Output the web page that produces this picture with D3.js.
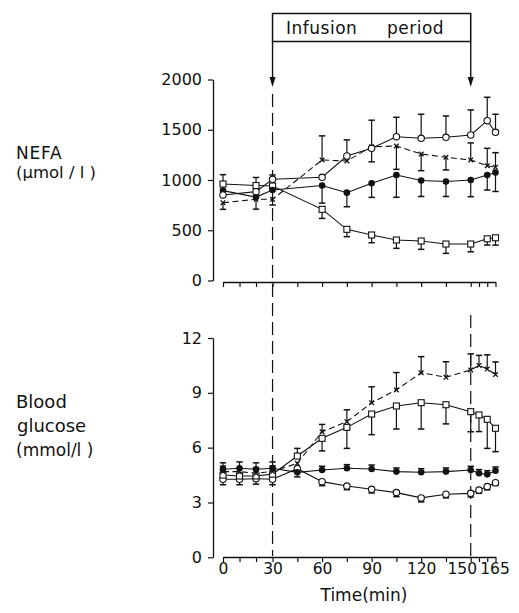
<!DOCTYPE html>
<html><head><meta charset="utf-8">
<script src="https://cdn.jsdelivr.net/npm/d3@7"></script>
<style>
body{margin:0;background:#fff}
text{font-family:"DejaVu Sans",sans-serif;fill:#111}
</style>
</head><body>
<svg id="c" width="519" height="613"></svg>
<script>
// ---- data ----
const timesTop = [0,20,30,60,75,90,105,120,135,150,160,165];
const nefaOpenCircle     = [851,884,1007,1027,1239,1315,1431,1415,1425,1448,1590,1474];
const nefaOpenCircleUp   = [0,0,43,0,160,280,193,239,212,249,233,180];
const nefaFilled         = [894,830,900,945,874,967,1050,995,985,1000,1050,1075];
const nefaFilledDown     = [0,120,0,175,140,140,222,159,149,166,150,189];
const nefaSquare         = [960,945,940,708,509,453,403,393,363,363,415,425];
const nefaSquareUp       = [93,80,0,0,0,0,0,0,0,0,0,0];
const nefaSquareDown     = [0,0,0,90,73,77,83,83,93,77,62,73];
const nefaCross          = [774,808,808,1199,1189,1331,1338,1259,1226,1199,1142,1126];
const nefaCrossUp        = [0,0,0,240,0,0,0,0,0,170,173,146];
const nefaCrossDown      = [66,0,57,0,0,150,232,166,126,0,0,0];

const timesBot = [0,10,20,30,45,60,75,90,105,120,135,150,155,160,165];
const gluFilled      = [4.82,4.87,4.82,4.87,4.65,4.78,4.87,4.83,4.69,4.65,4.69,4.78,4.6,4.54,4.74];
const gluFilledUp    = [0.35,0.35,0.35,0.35,0,0.2,0.2,0.22,0.2,0.2,0.2,0.2,0.2,0.2,0.2];
const gluFilledDown  = [0,0,0,0,0.25,0,0,0,0,0,0,0,0,0,0];
const gluCircle      = [4.27,4.27,4.3,4.27,4.85,4.14,3.9,3.72,3.54,3.25,3.45,3.5,3.68,3.87,4.08];
const gluCircleDown  = [0.3,0.3,0.3,0.3,0,0.22,0.2,0.2,0.22,0.22,0.2,0.2,0.18,0.18,0.15];
const gluSquare      = [4.5,4.45,4.45,4.55,5.54,6.51,7.11,7.84,8.28,8.46,8.35,7.97,7.79,7.55,7.06];
const gluSquareUp    = [0,0,0,0,0.42,0,0,0,0,0,0,0,0,0,0];
const gluSquareDown  = [0,0,0,0,0,0.69,1.15,1.13,1.26,1.44,1.05,1.1,0.91,1.59,1.28];
const gluCross       = [4.69,4.69,4.6,4.7,5.14,6.87,7.42,8.46,9.16,10.1,9.85,10.25,10.5,10.3,10.0];
const gluCrossUp     = [0.3,0,0.3,0.3,0,0.4,0.65,0.87,0.95,0.88,0.85,0.88,0.55,0.78,0.69];

const xTickTimes  = [0,10,20,30,45,60,75,90,105,120,135,150,155,160,165];
const xTickLabels = [0,30,60,90,120,150,165];
const nefaTicks   = [0,500,1000,1500,2000];
const gluTicks    = [0,3,6,9,12];
const infusion    = [30,150];

// ---- drawing ----
const svg = d3.select("#c");
const ink = "#111";
const x = d3.scaleLinear([0,165],[223,495.5]);
const yTop = d3.scaleLinear([0,2000],[280.5,79.5]);
const yBot = d3.scaleLinear([0,12],[557.3,338]);

function series(times, vals, up, down, marker, dashed){
  return {pts: times.map((t,i)=>({t, v: vals[i], up: up? up[i]:0, down: down? down[i]:0})), marker, dashed};
}
const topSeries = [
  series(timesTop, nefaSquare, nefaSquareUp, nefaSquareDown, "square", false),
  series(timesTop, nefaCross, nefaCrossUp, nefaCrossDown, "cross", true),
  series(timesTop, nefaFilled, null, nefaFilledDown, "filled", false),
  series(timesTop, nefaOpenCircle, nefaOpenCircleUp, null, "circle", false)
];
const botSeries = [
  series(timesBot, gluCircle, null, gluCircleDown, "circle", false),
  series(timesBot, gluSquare, gluSquareUp, gluSquareDown, "square", false),
  series(timesBot, gluCross, gluCrossUp, null, "cross", true),
  series(timesBot, gluFilled, gluFilledUp, gluFilledDown, "filled", false)
];

// dashed infusion lines
svg.append("line").attr("x1",x(infusion[0])).attr("x2",x(infusion[0]))
  .attr("y1",94).attr("y2",556).attr("stroke",ink).attr("stroke-width",1.2).attr("stroke-dasharray","13,6");
svg.append("line").attr("x1",x(infusion[1])).attr("x2",x(infusion[1]))
  .attr("y1",315).attr("y2",556).attr("stroke",ink).attr("stroke-width",1.2).attr("stroke-dasharray","13,6");

// infusion box
svg.append("rect").attr("x",x(infusion[0])).attr("y",13.5)
  .attr("width",x(infusion[1])-x(infusion[0])).attr("height",28)
  .attr("fill","none").attr("stroke",ink).attr("stroke-width",1.5);
svg.append("text").attr("x",286).attr("y",33.5).attr("font-size",17).attr("letter-spacing",0.5).text("Infusion");
svg.append("text").attr("x",387).attr("y",33.5).attr("font-size",17).attr("letter-spacing",0.5).text("period");
infusion.forEach(t=>{
  const xx = x(t);
  svg.append("line").attr("x1",xx).attr("x2",xx).attr("y1",41.5).attr("y2",79).attr("stroke",ink).attr("stroke-width",1.4);
  svg.append("path").attr("d",`M${xx-3},${77}L${xx+3},${77}L${xx},${87}Z`).attr("fill",ink);
});

function drawPanel(series, y, axisY, yTicks){
  const g = svg.append("g");
  // y axis
  const ya = g.append("g").attr("transform","translate(213,0)")
    .call(d3.axisLeft(y).tickValues(yTicks).tickFormat(d3.format("d")).tickSize(5).tickSizeOuter(0).tickPadding(6));
  ya.selectAll("text").attr("font-size",16).style("font-family","DejaVu Sans");
  // x axis
  const xa = g.append("g").attr("transform",`translate(0,${axisY})`)
    .call(d3.axisBottom(x).tickValues(xTickTimes).tickSize(5).tickSizeOuter(0)
      .tickFormat(d=> axisY>400 && xTickLabels.includes(d) ? d : ""));
  xa.selectAll("text").attr("font-size",15.5).attr("y",17).attr("dy",0)
    .attr("dx", d=> d===150 ? -9 : (d===165 ? -1 : 0)).style("font-family","DejaVu Sans");
  [ya,xa].forEach(a=>{ a.select(".domain").attr("stroke",ink).attr("stroke-width",1.3);
    a.selectAll(".tick line").attr("stroke",ink).attr("stroke-width",1.2); });

  // lines
  series.forEach(s=>{
    g.append("path").datum(s.pts)
      .attr("d", d3.line().x(d=>x(d.t)).y(d=>y(d.v)))
      .attr("fill","none").attr("stroke",ink).attr("stroke-width",1.1)
      .attr("stroke-dasharray", s.dashed ? "6,3.5" : null);
  });
  // error bars
  series.forEach(s=>{
    s.pts.forEach(d=>{
      [[d.up,1],[d.down,-1]].forEach(([e,sg])=>{
        if(!e) return;
        const y0 = y(d.v), y1 = y(d.v + sg*e), xx = x(d.t);
        g.append("line").attr("x1",xx).attr("x2",xx).attr("y1",y0).attr("y2",y1).attr("stroke",ink).attr("stroke-width",1.2);
        g.append("line").attr("x1",xx-3.2).attr("x2",xx+3.2).attr("y1",y1).attr("y2",y1).attr("stroke",ink).attr("stroke-width",1.5);
      });
    });
  });
  // markers
  series.forEach(s=>{
    s.pts.forEach(d=>{
      const xx = x(d.t), yy = y(d.v);
      if(s.marker==="circle"){
        g.append("circle").attr("cx",xx).attr("cy",yy).attr("r",3.2).attr("fill","#fff").attr("stroke",ink).attr("stroke-width",1.1);
      } else if(s.marker==="filled"){
        g.append("circle").attr("cx",xx).attr("cy",yy).attr("r",3.3).attr("fill",ink);
      } else if(s.marker==="square"){
        g.append("rect").attr("x",xx-3).attr("y",yy-3).attr("width",6).attr("height",6).attr("fill","#fff").attr("stroke",ink).attr("stroke-width",1.1);
      } else {
        g.append("path").attr("d",`M${xx-2.3},${yy-2.3}L${xx+2.3},${yy+2.3}M${xx-2.3},${yy+2.3}L${xx+2.3},${yy-2.3}`)
          .attr("stroke",ink).attr("stroke-width",1.3);
      }
    });
  });
}
drawPanel(topSeries, yTop, 282, nefaTicks);
drawPanel(botSeries, yBot, 557, gluTicks);

// axis titles
svg.append("text").attr("x",16).attr("y",159).attr("font-size",17).attr("letter-spacing",0.8).text("NEFA");
svg.append("text").attr("x",16).attr("y",178).attr("font-size",16.5).text("(µmol / l )");
svg.append("text").attr("x",16).attr("y",407.5).attr("font-size",18).text("Blood");
svg.append("text").attr("x",17).attr("y",431.5).attr("font-size",18).text("glucose");
svg.append("text").attr("x",16).attr("y",456).attr("font-size",17).text("(mmol/l )");
svg.append("text").attr("x",364).attr("y",601).attr("font-size",17).attr("text-anchor","middle").text("Time(min)");
</script>
</body></html>
